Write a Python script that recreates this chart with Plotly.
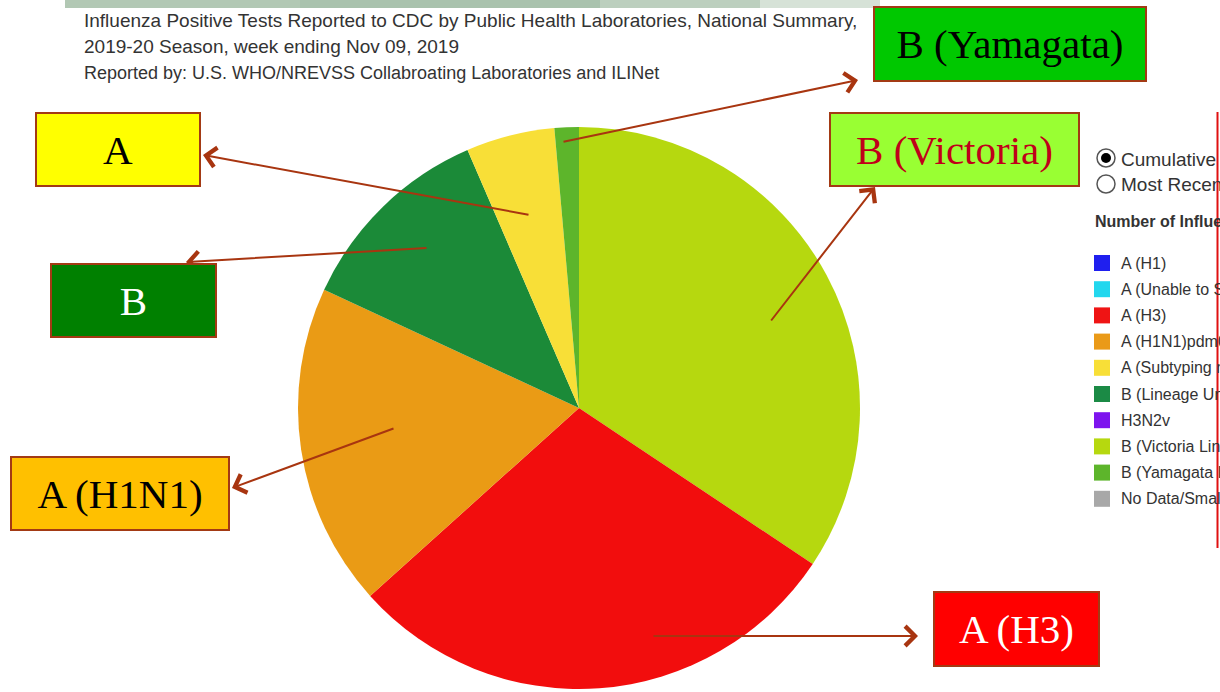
import plotly.graph_objects as go

# Cumulative share of influenza-positive tests by virus type/subgroup
slice_labels = ["B (Victoria Lineage)", "A (H3)", "A (H1N1)pdm09",
                "B (Lineage Unspecified)", "A (Subtyping not Performed)",
                "B (Yamagata Lineage)"]
slice_values = [34.4, 29.0, 18.6, 11.6, 5.1, 1.4]
slice_colors = ["#b6d80f", "#f20d0d", "#ea9b15", "#1b8a38", "#f8df37", "#5db52b"]

# Legend entries of the surveillance panel
legend_labels = ["A (H1)", "A (Unable to Subtype)", "A (H3)", "A (H1N1)pdm09",
                 "A (Subtyping not Performed)", "B (Lineage Unspecified)", "H3N2v",
                 "B (Victoria Lineage)", "B (Yamagata Lineage)", "No Data/Small Numbers"]
legend_colors = ["#1f1fef", "#22d7ee", "#ef1414", "#ea9a18", "#f8df37", "#1b8a45",
                 "#7d14ee", "#b6d80f", "#5db52b", "#a8a8a8"]

# Call-out boxes: text, fill, text colour
callout_text = ["B (Yamagata)", "B (Victoria)", "A", "B", "A (H1N1)", "A (H3)"]
callout_fill = ["#00c800", "#99ff33", "#ffff00", "#008000", "#ffc000", "#ff0000"]
callout_font = ["#000000", "#c0001a", "#000000", "#ffffff", "#000000", "#ffffff"]

title_lines = [
    "Influenza Positive Tests Reported to CDC by Public Health Laboratories, National Summary,",
    "2019-20 Season, week ending Nov 09, 2019",
    "Reported by: U.S. WHO/NREVSS Collabroating Laboratories and ILINet",
]

W, H = 1220, 692


def px(x):
    return x / W


def py(y):
    return 1 - y / H


fig = go.Figure()
fig.add_trace(go.Pie(
    labels=slice_labels, values=slice_values,
    marker=dict(colors=slice_colors, line=dict(width=0)),
    sort=False, direction="clockwise", rotation=0,
    textinfo="none", showlegend=False, hole=0,
    domain=dict(x=[px(298), px(860)], y=[py(689), py(127)]),
))

ann = []
shapes = []

# header banner strip
banner = [(65, 300, "#b2c8b4"), (300, 600, "#a9c2ad"), (600, 760, "#bccfbe"),
          (760, 880, "#d6e2d7")]
for x0, x1, c in banner:
    shapes.append(dict(type="rect", xref="paper", yref="paper", x0=px(x0), x1=px(x1),
                       y0=py(8), y1=1, fillcolor=c, line=dict(width=0), layer="below"))

# header text
ann.append(dict(text=title_lines[0], x=px(82), y=py(20), xref="paper", yref="paper",
                xanchor="left", yanchor="middle", showarrow=False,
                font=dict(family="Liberation Sans", size=19, color="#333333")))
ann.append(dict(text=title_lines[1], x=px(82), y=py(46), xref="paper", yref="paper",
                xanchor="left", yanchor="middle", showarrow=False,
                font=dict(family="Liberation Sans", size=19, color="#333333")))
ann.append(dict(text=title_lines[2], x=px(82), y=py(73), xref="paper", yref="paper",
                xanchor="left", yanchor="middle", showarrow=False,
                font=dict(family="Liberation Sans", size=18, color="#333333")))

# radio buttons
shapes.append(dict(type="circle", xref="paper", yref="paper", x0=px(1097), x1=px(1115),
                   y0=py(167), y1=py(149), line=dict(color="#555555", width=1.5),
                   fillcolor="white"))
shapes.append(dict(type="circle", xref="paper", yref="paper", x0=px(1101), x1=px(1111),
                   y0=py(163), y1=py(153), line=dict(width=0), fillcolor="#000000"))
shapes.append(dict(type="circle", xref="paper", yref="paper", x0=px(1097), x1=px(1115),
                   y0=py(193), y1=py(175), line=dict(color="#555555", width=1.5),
                   fillcolor="white"))
ann.append(dict(text="Cumulative", x=px(1119), y=py(159), xref="paper", yref="paper",
                xanchor="left", yanchor="middle", showarrow=False,
                font=dict(family="Liberation Sans", size=19, color="#333333")))
ann.append(dict(text="Most Recent", x=px(1119), y=py(185), xref="paper", yref="paper",
                xanchor="left", yanchor="middle", showarrow=False,
                font=dict(family="Liberation Sans", size=19, color="#333333")))
ann.append(dict(text="<b>Number of Influenza Positive Tests</b>", x=px(1093), y=py(222),
                xref="paper", yref="paper", xanchor="left", yanchor="middle",
                showarrow=False,
                font=dict(family="Liberation Sans", size=16, color="#333333")))

# legend swatches and labels
for i, (lab, col) in enumerate(zip(legend_labels, legend_colors)):
    yc = 263 + i * 26.2
    shapes.append(dict(type="rect", xref="paper", yref="paper", x0=px(1094), x1=px(1110),
                       y0=py(yc + 8), y1=py(yc - 8), fillcolor=col, line=dict(width=0)))
    ann.append(dict(text=lab, x=px(1119), y=py(yc), xref="paper", yref="paper",
                    xanchor="left", yanchor="middle", showarrow=False,
                    font=dict(family="Liberation Sans", size=16, color="#333333")))

# red frame edge on the right
shapes.append(dict(type="line", xref="paper", yref="paper", x0=px(1217.5), x1=px(1217.5),
                   y0=py(548), y1=py(112), line=dict(color="#e01010", width=2)))

# arrows from slices to call-out boxes (tail on slice, head at box)
arrow_tail = [(562, 142), (530, 215), (428, 248), (395, 428), (770, 322), (652, 636)]
arrow_head = [(858, 80), (203, 155), (186, 262), (232, 488), (875, 187), (918, 636)]
for (tx, ty), (hx, hy) in zip(arrow_tail, arrow_head):
    ann.append(dict(text="", x=px(hx), y=py(hy), xref="paper", yref="paper",
                    ax=tx - hx, ay=ty - hy, showarrow=True, arrowhead=4,
                    arrowsize=1.9, arrowwidth=2, arrowcolor="#a83510",
                    standoff=0, startstandoff=0))

# call-out boxes
boxes = [(873, 6, 1147, 82), (829, 112, 1080, 187), (35, 112, 201, 187),
         (50, 263, 217, 338), (10, 456, 230, 531), (933, 591, 1100, 667)]
for (x0, y0, x1, y1), t, fc, tc in zip(boxes, callout_text, callout_fill, callout_font):
    ann.append(dict(text=t, x=px((x0 + x1) / 2), y=py((y0 + y1) / 2),
                    xref="paper", yref="paper", xanchor="center", yanchor="middle",
                    showarrow=False, bgcolor=fc, bordercolor="#a33a14", borderwidth=2,
                    borderpad=0, width=x1 - x0 - 4, height=y1 - y0 - 4,
                    font=dict(family="Liberation Serif", size=41, color=tc)))

fig.update_layout(
    width=W, height=H, margin=dict(l=0, r=0, t=0, b=0),
    paper_bgcolor="white", plot_bgcolor="white",
    annotations=ann, shapes=shapes, showlegend=False,
)
fig.write_html("out.html")
